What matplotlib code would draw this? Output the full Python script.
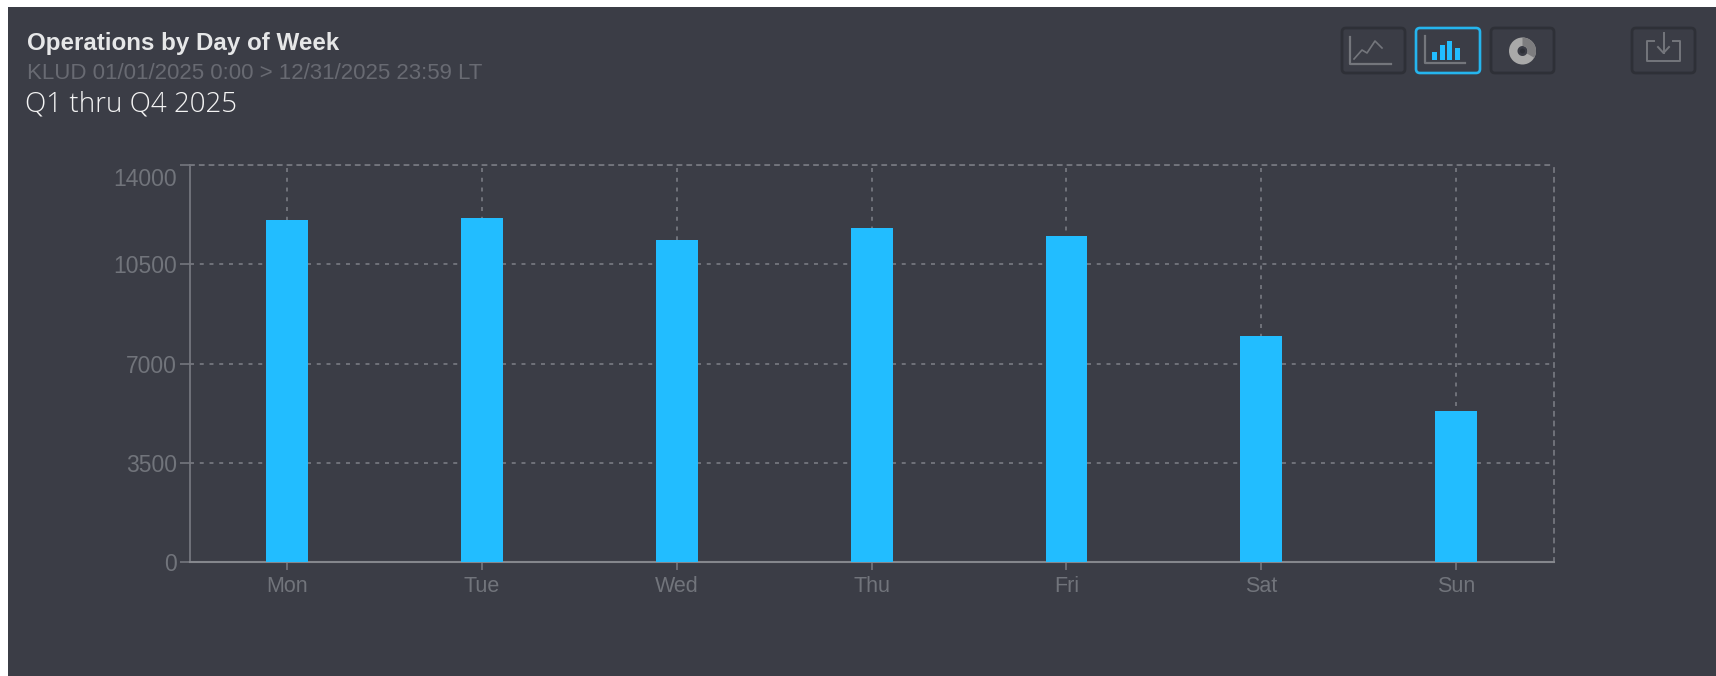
import matplotlib
matplotlib.use("Agg")
import matplotlib.pyplot as plt
from matplotlib.patches import Rectangle, FancyBboxPatch, Wedge, Circle

days = ["Mon", "Tue", "Wed", "Thu", "Fri", "Sat", "Sun"]
operations = [12068, 12128, 11375, 11775, 11517, 7959, 5334]
y_ticks = [0, 3500, 7000, 10500, 14000]
y_labels = ["0", "3500", "7000", "10500", ""]
top_label = "14000"

title = "Operations by Day of Week"
subtitle = "KLUD 01/01/2025 0:00 > 12/31/2025 23:59 LT"
note = "Q1 thru Q4 2025"

BG = "#3b3d46"
BAR = "#22bdff"
GRID = "#74767e"
TICK_TEXT = "#71747b"
BTN_EDGE = "#2e3037"
ICON = "#74767c"

fig = plt.figure(figsize=(17.16, 6.76), dpi=100, facecolor="white")

# overlay in pixel coords for panel, header and buttons
ov = fig.add_axes([0, 0, 1, 1], zorder=0)
ov.set_xlim(0, 1716)
ov.set_ylim(676, 0)
ov.axis("off")
ov.add_patch(Rectangle((8, 7), 1708, 669, fc=BG, ec="none"))

ov.text(27, 50, title, color="#e6e7e8", fontsize=17.4, family="Liberation Sans",
        weight="bold", va="baseline")
ov.text(27, 79, subtitle, color="#686a72", fontsize=16, family="Liberation Sans",
        va="baseline")
ov.text(25, 112, note, color="#f4f4f4", fontsize=20, family="Open Sans",
        weight="light", va="baseline")

# chart
ax = fig.add_axes([189.6 / 1716, (676 - 562) / 676, 1364 / 1716, 396.8 / 676],
                  zorder=1)
ax.set_facecolor("none")
ax.bar(days, operations, width=0.215, color=BAR, zorder=3)
ax.set_xlim(-0.5, 6.5)
ax.set_ylim(0, 14000)
ax.set_yticks(y_ticks, y_labels)
ax.grid(True, color=GRID, linestyle=(0, (2.2, 3.2)), linewidth=1.3, zorder=1)
ax.set_axisbelow(True)

for side in ["top", "right"]:
    ax.spines[side].set_color(GRID)
    ax.spines[side].set_linestyle((0, (2.2, 3.2)))
    ax.spines[side].set_linewidth(1.3)
ax.spines["left"].set_color(GRID)
ax.spines["left"].set_linewidth(1.3)
ax.spines["left"].set_linestyle((0, (7, 1)))
ax.spines["bottom"].set_color("#85878d")
ax.spines["bottom"].set_linewidth(1.5)
ax.spines["bottom"].set_linestyle((0, (7, 1)))

ax.tick_params(axis="y", length=7, width=1.2, color=GRID, labelcolor=TICK_TEXT,
               labelsize=16.5, pad=2)
ax.tick_params(axis="x", length=6, width=1.2, color=GRID, labelcolor=TICK_TEXT,
               labelsize=15.5, pad=4)
for lab in ax.get_yticklabels() + ax.get_xticklabels():
    lab.set_family("Liberation Sans")

# top label sits below its gridline in the original
ax.annotate(top_label, xy=(0, 14000), xycoords=("axes fraction", "data"),
            xytext=(-12.5, -3), textcoords="offset pixels", ha="right", va="top",
            color=TICK_TEXT, fontsize=16.5, family="Liberation Sans",
            annotation_clip=False)

# toolbar buttons
def button(x0, x1, edge=BTN_EDGE, lw=2.0):
    ov.add_patch(FancyBboxPatch((x0, 28), x1 - x0, 45,
                                boxstyle="round,pad=0,rounding_size=4",
                                fc=BG, ec=edge, lw=lw))

button(1342, 1405)
button(1416, 1480, edge="#25b5ee", lw=1.9)
button(1491, 1554)
button(1632, 1695)

# line icon
ov.plot([1350, 1350, 1391], [37, 64, 64], color=ICON, lw=1.6)
ov.plot([1354, 1362, 1367, 1375, 1382], [59, 50, 53, 41, 48], color=ICON, lw=1.2)

# bar icon
ov.plot([1425, 1425, 1465], [36, 63, 63], color=ICON, lw=1.6)
for bx, btop in [(1432, 52), (1440, 45), (1447, 41), (1455, 48)]:
    ov.add_patch(Rectangle((bx, btop), 4.5, 60 - btop, fc=BAR, ec="none"))

# donut icon
ov.add_patch(Wedge((1522.5, 51), 13.5, 0, 360, width=8.5, fc="#a9a9a9", ec="none"))
ov.add_patch(Wedge((1522.5, 51), 13.5, -90, 30, width=8.5, fc="#7d7d7f", ec="none"))
ov.add_patch(Circle((1522.5, 51), 2.5, fc="#2e3037", ec="none"))

# download icon
ov.plot([1654, 1647, 1647, 1680, 1680, 1673], [41, 41, 61, 61, 41, 41],
        color=ICON, lw=1.4)
ov.plot([1663.5, 1663.5], [33, 53], color=ICON, lw=1.4)
ov.plot([1658, 1663.5, 1669], [47, 53, 47], color=ICON, lw=1.4)

plt.savefig("out.png", dpi=100, facecolor=fig.get_facecolor())
